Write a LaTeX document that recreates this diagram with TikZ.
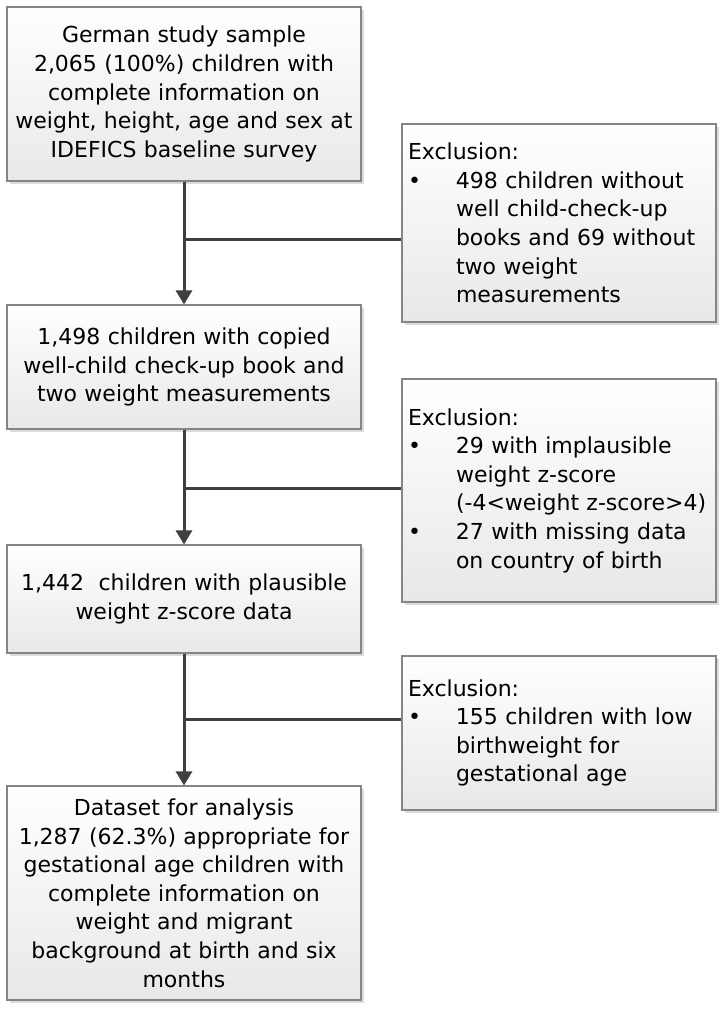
\documentclass[tikz,border=0pt]{standalone}
\usepackage{fontspec}
\setmainfont{DejaVu Sans}
\usetikzlibrary{arrows.meta,shadows}
\definecolor{boxborder}{HTML}{858585}
\definecolor{linecol}{HTML}{404040}
\begin{document}
\begin{tikzpicture}[x=1pt,y=1pt,
  basebox/.style={draw=boxborder, line width=1.1pt, top color=white, bottom color=black!9,
    drop shadow={shadow xshift=3pt, shadow yshift=-3pt, fill=black!14, opacity=1},
    inner sep=0pt, font=\fontsize{22}{28.6}\selectfont},
  mainbox/.style={basebox, minimum width=354pt, text width=348pt, align=center},
  exbox/.style={basebox, minimum width=314pt, text width=306pt, align=left},
  flow/.style={draw=linecol, line width=3pt},
  arr/.style={flow, -{Triangle[length=14pt,width=16pt]}}
]
\fill[white] (0,0) rectangle (726,-1012);
\path[use as bounding box] (0,0) rectangle (726,-1012);
\newcommand{\bul}{\makebox[50pt][l]{\hspace{2pt}\textbullet}}
\newcommand{\ind}{\hspace*{50pt}}

\node[mainbox, minimum height=174pt] (b1) at (184,-94)
  {German study sample\\2,065 (100\%) children with\\complete information on\\weight, height, age and sex at\\IDEFICS baseline survey};
\node[mainbox, minimum height=124pt] (b2) at (184,-367)
  {1,498 children with copied\\well-child check-up book and\\two weight measurements};
\node[mainbox, minimum height=108pt] (b3) at (184,-599)
  {1,442\ \ children with plausible\\weight z-score data};
\node[mainbox, minimum height=214pt] (b4) at (184,-893)
  {Dataset for analysis\\1,287 (62.3\%) appropriate for\\gestational age children with\\complete information on\\weight and migrant\\background at birth and six\\months};

\node[exbox, minimum height=198pt] (e1) at (559,-223)
  {\hspace*{2pt}Exclusion:\\\bul 498 children without\\\ind well child-check-up\\\ind books and 69 without\\\ind two weight\\\ind measurements};
\node[exbox, minimum height=223pt] (e2) at (559,-490.5)
  {\hspace*{2pt}Exclusion:\\\bul 29 with implausible\\\ind weight z-score\\\ind (-4<weight z-score>4)\\\bul 27 with missing data\\\ind on country of birth};
\node[exbox, minimum height=154pt] (e3) at (559,-733)
  {\hspace*{2pt}Exclusion:\\\bul 155 children with low\\\ind birthweight for\\\ind gestational age};

\coordinate (j1) at (b1.south |- 0,-239);
\coordinate (j2) at (b2.south |- 0,-488);
\coordinate (j3) at (b3.south |- 0,-719);

\draw[arr] (b1.south) -- (b2.north);
\draw[arr] (b2.south) -- (b3.north);
\draw[arr] (b3.south) -- (b4.north);
\draw[flow] (j1) -- (j1 -| e1.west);
\draw[flow] (j2) -- (j2 -| e2.west);
\draw[flow] (j3) -- (j3 -| e3.west);
\end{tikzpicture}
\end{document}
